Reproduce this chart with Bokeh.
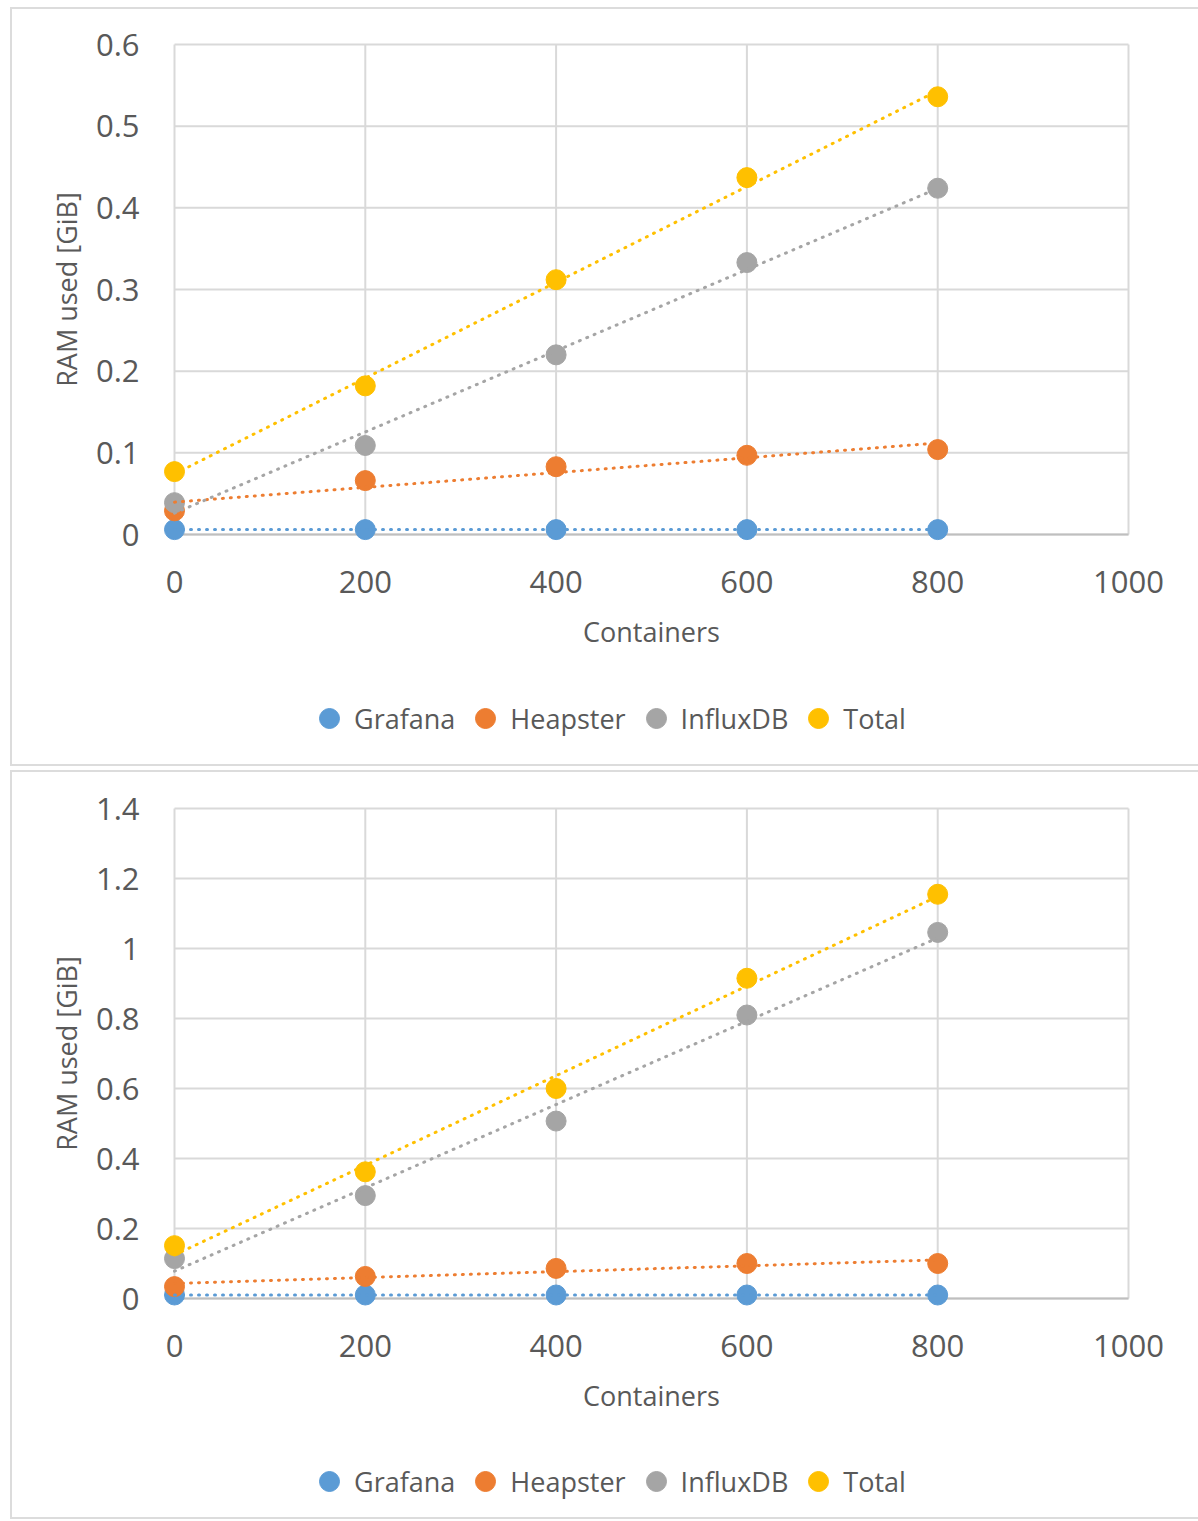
import numpy as np
from bokeh.plotting import figure
from bokeh.models import (Legend, LegendItem, FixedTicker, CustomJSTickFormatter, Range1d)
from bokeh.layouts import column
from bokeh.embed import file_html
from bokeh.resources import INLINE

containers = [0, 200, 400, 600, 800]
series_names = ["Grafana", "Heapster", "InfluxDB", "Total"]
series_colors = ["#5B9BD5", "#ED7D31", "#A5A5A5", "#FFC000"]

# Chart 1 (top)
c1_grafana = [0.006, 0.006, 0.006, 0.006, 0.006]
c1_heapster = [0.029, 0.066, 0.083, 0.097, 0.104]
c1_influxdb = [0.039, 0.109, 0.220, 0.333, 0.424]
c1_total = [0.077, 0.182, 0.312, 0.437, 0.536]
c1_yticks = [0, 0.1, 0.2, 0.3, 0.4, 0.5, 0.6]

# Chart 2 (bottom)
c2_grafana = [0.01, 0.01, 0.01, 0.01, 0.01]
c2_heapster = [0.034, 0.063, 0.086, 0.100, 0.100]
c2_influxdb = [0.114, 0.294, 0.507, 0.810, 1.046]
c2_total = [0.151, 0.362, 0.600, 0.915, 1.155]
c2_yticks = [0, 0.2, 0.4, 0.6, 0.8, 1.0, 1.2, 1.4]

xticks = [0, 200, 400, 600, 800, 1000]

FONT = "Open Sans"
TEXT = "#595959"
GRID = "#d9d9d9"
BOX = "2px solid #dcdcdc"
PAD = 14          # px of frame beyond the visible plot box (so markers are not clipped)
PLOT_W = 954
PLOT_H = 490
FIG_W = 1188


def make_chart(series, yticks, top, height):
    x0, x1 = xticks[0], xticks[-1]
    y0, y1 = yticks[0], yticks[-1]
    xpad = PAD * (x1 - x0) / PLOT_W
    ypad = PAD * (y1 - y0) / PLOT_H
    p = figure(output_backend="svg", toolbar_location=None,
               x_range=Range1d(x0 - xpad, x1 + xpad), y_range=Range1d(y0 - ypad, y1 + ypad),
               frame_width=PLOT_W + 2 * PAD, frame_height=PLOT_H + 2 * PAD,
               min_border_left=148, min_border_right=58,
               min_border_top=top - PAD,
               min_border_bottom=height - top - PLOT_H - PAD)
    p.outline_line_color = None
    p.background_fill_color = "white"
    p.border_fill_color = "white"
    p.xgrid.visible = False
    p.ygrid.visible = False

    p.xaxis.ticker = FixedTicker(ticks=xticks)
    p.yaxis.ticker = FixedTicker(ticks=yticks)
    p.yaxis.formatter = CustomJSTickFormatter(code="return String(Math.round(tick*10)/10);")
    for ax in (p.xaxis[0], p.yaxis[0]):
        ax.axis_line_color = None
        ax.major_tick_line_color = None
        ax.minor_tick_line_color = None
        ax.major_label_text_font = FONT
        ax.major_label_text_font_size = "31px"
        ax.major_label_text_color = TEXT
        ax.axis_label_text_font = FONT
        ax.axis_label_text_font_size = "27px"
        ax.axis_label_text_color = TEXT
        ax.axis_label_text_font_style = "normal"
    p.xaxis.major_label_standoff = 16
    p.yaxis.major_label_standoff = 15
    p.xaxis.axis_label = "Containers"
    p.xaxis.axis_label_standoff = 17
    p.yaxis.axis_label = "RAM used [GiB]"
    p.yaxis.axis_label_standoff = 8

    # gridlines (from tick lists) and the bottom axis line
    p.segment(x0=xticks, y0=[y0] * len(xticks), x1=xticks, y1=[y1] * len(xticks),
              line_color=GRID, line_width=2)
    p.segment(x0=[x0] * len(yticks), y0=yticks, x1=[x1] * len(yticks), y1=yticks,
              line_color=GRID, line_width=2)
    p.segment(x0=[x0], y0=[y0], x1=[x1], y1=[y0], line_color="#bfbfbf", line_width=2)

    x = np.array(containers, dtype=float)
    for name, color, vals in zip(series_names, series_colors, series):
        p.scatter(containers, vals, size=20, color=color, line_color=color)
    for name, color, vals in zip(series_names, series_colors, series):
        k, b = np.polyfit(x, np.array(vals), 1)
        xs = [x[0], x[-1]]
        p.line(xs, [k * xs[0] + b, k * xs[1] + b], line_color=color, line_width=3,
               line_dash="1 7", line_cap="round")
    return p


def make_legend(series, height):
    # the series are plotted here out of view; only the legend of this strip is seen
    lg = figure(width=FIG_W, height=height, output_backend="svg", toolbar_location=None,
                x_range=Range1d(-2, -1), y_range=Range1d(-2, -1),
                x_axis_type=None, y_axis_type=None,
                min_border=0, min_border_left=0, min_border_right=0,
                min_border_top=0, min_border_bottom=0)
    lg.outline_line_color = None
    lg.xgrid.visible = False
    lg.ygrid.visible = False
    items = []
    for name, color, vals in zip(series_names, series_colors, series):
        r = lg.scatter(containers, vals, size=20, color=color, line_color=color)
        items.append(LegendItem(label=name, renderers=[r]))
    legend = Legend(items=items, orientation="horizontal", location=(144, height - 54),
                    label_text_font=FONT, label_text_font_size="27px", label_text_color=TEXT,
                    glyph_width=50, glyph_height=50, label_standoff=0, spacing=5,
                    padding=0, margin=0, border_line_color=None, background_fill_alpha=0)
    lg.add_layout(legend, "center")
    return lg


s1 = [c1_grafana, c1_heapster, c1_influxdb, c1_total]
s2 = [c2_grafana, c2_heapster, c2_influxdb, c2_total]
p1 = make_chart(s1, c1_yticks, 35, 680)
l1 = make_legend(s1, 75)
p2 = make_chart(s2, c2_yticks, 36, 680)
l2 = make_legend(s2, 65)

box1 = column(p1, l1, spacing=0, styles={"border": BOX})
box2 = column(p2, l2, spacing=0, styles={"border": BOX})
layout = column(box1, box2, spacing=4, styles={"margin-left": "10px", "margin-top": "7px"})
open("out.html", "w").write(file_html(layout, INLINE))
